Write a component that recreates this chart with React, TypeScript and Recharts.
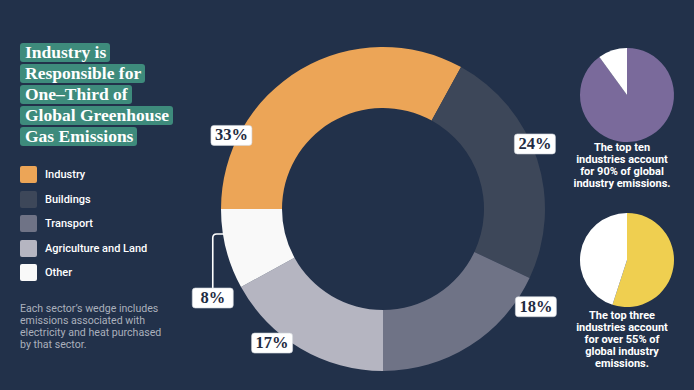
import { PieChart, Pie, Cell } from 'recharts'

const sectors = ['Industry', 'Buildings', 'Transport', 'Agriculture and Land', 'Other']
const sectorShares = [33, 24, 18, 17, 8]

const topTenLabels = ['Top ten industries', 'Rest']
const topTenShares = [90, 10]

const topThreeLabels = ['Top three industries', 'Rest']
const topThreeShares = [55, 45]

const titleLines = ['Industry is', 'Responsible for', 'One–Third of', 'Global Greenhouse', 'Gas Emissions']
const noteLines = ['Each sector’s wedge includes', 'emissions associated with', 'electricity and heat purchased', 'by that sector.']
const topTenNote = ['The top ten', 'industries account', 'for 90% of global', 'industry emissions.']
const topThreeNote = ['The top three', 'industries account', 'for over 55% of', 'global industry', 'emissions.']

const BG = '#22314a'
const sectorColors = ['#eca557', '#3d4759', '#6f7386', '#b5b5c1', '#f9f9f9']
const SERIF = '"Liberation Serif", "DejaVu Serif", serif'
const SANS = 'Roboto, Inter, "Noto Sans", sans-serif'

const RADIAN = Math.PI / 180

// where each % tag sits: fraction along the slice arc, and radius factor
const labelSpots = [
  { t: 0.218, k: 1.04 },
  { t: 0.44, k: 1.02 },
  { t: 0.114, k: 1.12 },
  { t: 0.647, k: 1.074 },
  { t: 0.69, k: 0.995 },
]

const donutData = sectors.map((name, i) => ({ name, value: sectorShares[i] }))
const topTenData = topTenLabels.map((name, i) => ({ name, value: topTenShares[i] }))
const topThreeData = topThreeLabels.map((name, i) => ({ name, value: topThreeShares[i] }))

function Tag({ x, y, text }: { x: number; y: number; text: string }) {
  return (
    <g>
      <rect x={x - 20.5} y={y - 10} width={41} height={20} rx={3} fill="#fff" stroke="#cfd3da" strokeWidth={0.6} />
      <text
        x={x}
        y={y + 1}
        textAnchor="middle"
        dominantBaseline="middle"
        fill="#1f2c42"
        fontFamily={SERIF}
        fontWeight={700}
        fontSize={16.5}
      >
        {text}
      </text>
    </g>
  )
}

function renderSectorLabel(props: any) {
  const { cx, cy, startAngle, endAngle, outerRadius, index, value } = props
  const spot = labelSpots[index]
  const a = startAngle + (endAngle - startAngle) * spot.t
  const r = outerRadius * spot.k
  const x = cx + r * Math.cos(a * RADIAN)
  const y = cy - r * Math.sin(a * RADIAN)
  const text = `${value}%`

  if (index === sectors.length - 1) {
    // small slice: leader line going left then down to the tag
    const lx = x - 11
    const by = y + 54
    return (
      <g key={`lbl-${index}`}>
        <path
          d={`M${x},${y} L${lx + 4},${y} Q${lx},${y} ${lx},${y + 4} L${lx},${by}`}
          stroke="#fff"
          strokeWidth={1.6}
          fill="none"
        />
        <Tag x={lx} y={by + 10} text={text} />
      </g>
    )
  }
  return <Tag key={`lbl-${index}`} x={x} y={y} text={text} />
}

export default function App() {
  return (
    <div
      style={{
        position: 'absolute',
        left: 0,
        top: 0,
        width: 694,
        height: 390,
        background: BG,
        overflow: 'hidden',
        fontFamily: SANS,
      }}
    >
      <div style={{ position: 'absolute', left: 0, top: 0 }}>
        <PieChart width={694} height={390}>
          <Pie
            data={donutData}
            dataKey="value"
            nameKey="name"
            cx={378}
            cy={204}
            innerRadius={101}
            outerRadius={162}
            startAngle={180}
            endAngle={-180}
            stroke="none"
            label={renderSectorLabel}
            labelLine={false}
            isAnimationActive={false}
          >
            {donutData.map((d, i) => (
              <Cell key={d.name} fill={sectorColors[i]} />
            ))}
          </Pie>
          <Pie
            data={topTenData}
            dataKey="value"
            cx={622}
            cy={90}
            outerRadius={47}
            startAngle={90}
            endAngle={-270}
            stroke="none"
            isAnimationActive={false}
          >
            <Cell fill="#7a6a9b" />
            <Cell fill="#ffffff" />
          </Pie>
          <Pie
            data={topThreeData}
            dataKey="value"
            cx={622}
            cy={255}
            outerRadius={47}
            startAngle={90}
            endAngle={-270}
            stroke="none"
            isAnimationActive={false}
          >
            <Cell fill="#efcf50" />
            <Cell fill="#ffffff" />
          </Pie>
        </PieChart>
      </div>

      {/* Title */}
      <div style={{ position: 'absolute', left: 20, top: 43 }}>
        {titleLines.map((line) => (
          <div key={line} style={{ height: 21 }}>
            <span
              style={{
                display: 'inline-block',
                background: '#3e8b7c',
                color: '#fff',
                fontFamily: SERIF,
                fontWeight: 700,
                fontSize: 17.5,
                lineHeight: '19px',
                padding: '0 4px 0 5px',
                borderRadius: 3,
                whiteSpace: 'nowrap',
              }}
            >
              {line}
            </span>
          </div>
        ))}
      </div>

      {/* Legend */}
      <div style={{ position: 'absolute', left: 20, top: 166 }}>
        {sectors.map((s, i) => (
          <div key={s} style={{ display: 'flex', alignItems: 'center', height: 17, marginBottom: 7.5 }}>
            <div style={{ width: 17, height: 17, borderRadius: 2, background: sectorColors[i] }} />
            <span style={{ marginLeft: 8, color: '#fff', fontSize: 11, fontWeight: 500 }}>{s}</span>
          </div>
        ))}
      </div>

      {/* Footnote */}
      <div style={{ position: 'absolute', left: 20, top: 303, color: '#aab0bc', fontSize: 10.6, lineHeight: '12px' }}>
        {noteLines.map((l) => (
          <div key={l}>{l}</div>
        ))}
      </div>

      {/* Right side notes */}
      <div
        style={{
          position: 'absolute',
          left: 562,
          width: 120,
          top: 142,
          textAlign: 'center',
          color: '#fff',
          fontSize: 11,
          fontWeight: 700,
          lineHeight: '12px',
        }}
      >
        {topTenNote.map((l) => (
          <div key={l}>{l}</div>
        ))}
      </div>
      <div
        style={{
          position: 'absolute',
          left: 562,
          width: 120,
          top: 310,
          textAlign: 'center',
          color: '#fff',
          fontSize: 11,
          fontWeight: 700,
          lineHeight: '12px',
        }}
      >
        {topThreeNote.map((l) => (
          <div key={l}>{l}</div>
        ))}
      </div>
    </div>
  )
}
